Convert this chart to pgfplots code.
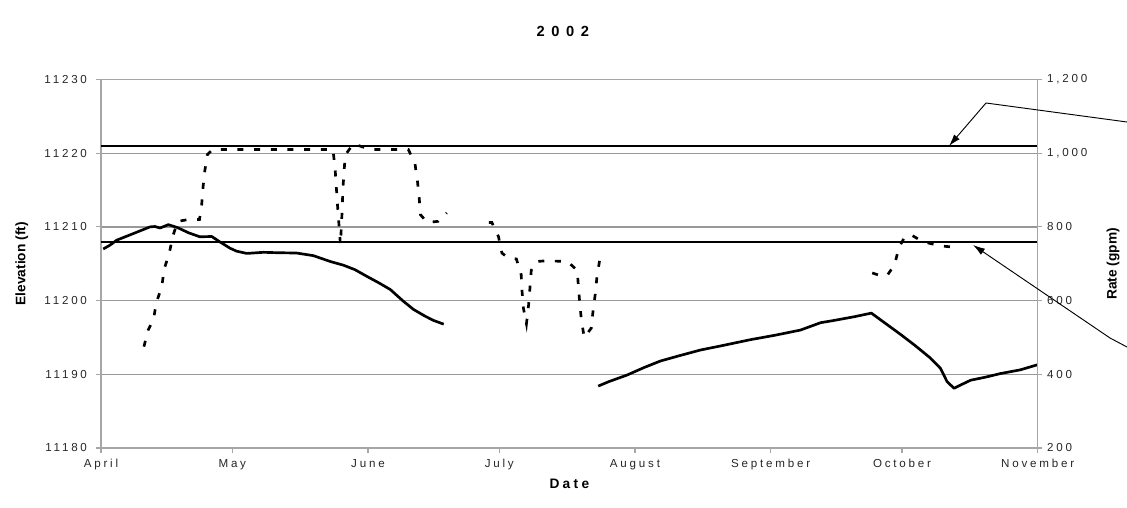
\documentclass[border=0pt]{standalone}
\usepackage{pgfplots}
\pgfplotsset{compat=1.18}
\usepackage{fontspec}
\setmainfont{Liberation Sans}
\newfontfamily\spaced[LetterSpace=24]{Liberation Sans}
\newfontfamily\spacedb[LetterSpace=24]{Liberation Sans Bold}
\newfontfamily\spacedt[LetterSpace=45]{Liberation Sans Bold}
\usetikzlibrary{arrows.meta}
\begin{document}
\begin{tikzpicture}
\pgfplotsset{
  common/.style={
    scale only axis, width=702.5pt, height=276.4pt,
    xmin=0, xmax=214,
    at={(0,0)}, anchor=south west,
    tick align=outside, major tick length=3.5pt,
    every tick/.style={gray!70, line width=0.8pt},
    axis line style={gray!70, line width=0.9pt},
    /pgf/number format/assume math mode=true,
    ticklabel style={font=\spaced\fontsize{8.7}{10}\selectfont, text=black!85},
    unbounded coords=jump,
    scaled y ticks=false,
  }
}
\begin{axis}[common, name=ax,
  ymin=11180, ymax=11230, ytick={11180,11190,...,11230},
  xtick={0,30,61,91,122,153,183,214},
  xticklabels={April,May,June,July,August,September,October,November},
  tick pos=left,
  yticklabel style={xshift=-3.5pt},
  xticklabel style={yshift=-1.5pt},
  /pgf/number format/1000 sep={},
  /pgf/number format/fixed, /pgf/number format/precision=0,
  ymajorgrids, grid style={gray!80, line width=1pt},
  ylabel={Elevation (ft)},
  ylabel style={at={(axis description cs:-0.0845,0.5)}, anchor=center, font=\bfseries\fontsize{10.3}{12}\selectfont},
  xlabel={Date},
  xlabel style={at={(axis description cs:0.5,-0.0977)}, anchor=center, font=\spacedb\fontsize{10.3}{12}\selectfont},
  title={2002},
  title style={at={(axis description cs:0.493,1)}, anchor=center, yshift=30pt, font=\spacedt\fontsize{11}{13}\selectfont},
  clip=false,
]
\addplot[black, line width=1.5pt] coordinates {(0,11221) (214,11221)};
\addplot[black, line width=1.5pt] coordinates {(0,11208) (214,11208)};
\addplot[black, line width=2pt, line join=round] coordinates {
(0.5,11207.0) (2,11207.5) (3.6,11208.2) (7,11209.0) (11.2,11210.0) (12.3,11210.05)
(13.5,11209.85) (15.4,11210.3) (17.5,11209.9) (20,11209.2) (22.6,11208.65) (25.3,11208.7)
(26.8,11208.1) (29.5,11207.1) (31,11206.7) (33.3,11206.4) (37.1,11206.55) (40,11206.5)
(44.7,11206.45) (48.5,11206.1) (52.4,11205.3) (55.4,11204.8) (58,11204.2) (60.7,11203.3)
(63.5,11202.4) (66.1,11201.5) (69.1,11199.9) (71.4,11198.8) (74,11197.9) (76,11197.3) (78.3,11196.8)
(100,nan)
(113.6,11188.4) (116,11189.0) (120.2,11189.9) (124,11190.9) (127.8,11191.8) (132,11192.5)
(137.0,11193.3) (142,11193.9) (148.4,11194.7) (154,11195.3) (159.8,11196.0) (164.4,11197.0)
(167.4,11197.3) (172,11197.8) (176.0,11198.3) (182.7,11195.4) (186,11193.9) (189.5,11192.2)
(191.8,11190.8) (193.3,11189.0) (194.9,11188.1) (196.4,11188.55) (198.7,11189.2) (202,11189.6)
(205.5,11190.1) (210,11190.6) (214,11191.3)
};
\end{axis}
\begin{axis}[common,
  ymin=200, ymax=1200, ytick={200,400,...,1200},
  axis y line*=right, axis x line=none,
  ytick pos=right,
  /pgf/number format/1000 sep={,},
  ylabel={Rate (gpm)},
  ylabel style={at={(axis description cs:1.0804,0.5)}, anchor=center, rotate=0, font=\bfseries\fontsize{10.3}{12}\selectfont},
]
\addplot[black, line width=2pt, dash pattern=on 4.5pt off 8pt] coordinates {
(9.8,475) (10.8,521) (12,548) (12.6,593) (13.9,638) (14.4,684) (15.6,729) (16.4,774)
(17.5,815) (20,820) (22.5,820) (23,860) (23.3,906) (23.7,951) (24.3,996) (25.5,1010)
(40,1010) (53,1010) (53.5,955) (54,865) (54.7,752) (55,820) (55.3,910) (55.8,995)
(57.7,1026) (59,1020) (61.5,1010) (70.2,1010) (71.7,974) (72.3,924) (72.7,878) (73,833)
(74.5,812) (77,815) (79,838)
(85,nan)
(88.6,812) (89.3,812) (90.8,774) (91.6,729) (93,716) (94.9,713) (96,670) (96.2,625) (96.5,580)
(97.2,537) (97.7,589) (98.0,634) (98.3,682) (99.5,706) (101.7,708) (106.6,706) (108.8,682)
(109.1,634) (109.4,589) (109.8,543) (110.4,500) (112.0,525) (112.4,570) (112.9,616)
(113.3,663) (113.9,708)
(150,nan)
(176.2,675) (178,668) (179.6,668) (181.3,697) (182.3,744) (183.5,770) (185,779) (187,765)
(189.1,756) (192,748) (195,745)
};
\end{axis}
\begin{scope}[shift={(ax.south west)}]
\draw[black, line width=0.7pt, -{Latex[length=9pt,width=5.5pt]}] (769.5pt,244.5pt) -- (663.75pt,258.75pt) -- (636pt,226.5pt);
\draw[black, line width=0.7pt, -{Latex[length=9pt,width=5.5pt]}] (769.5pt,75.75pt) -- (756.75pt,82.5pt) -- (654pt,152.25pt);
\end{scope}
\pgfresetboundingbox
\path[shift={(ax.south west)}] (-75.75pt,-44.25pt) rectangle (769.5pt,336pt);
\end{tikzpicture}
\end{document}
